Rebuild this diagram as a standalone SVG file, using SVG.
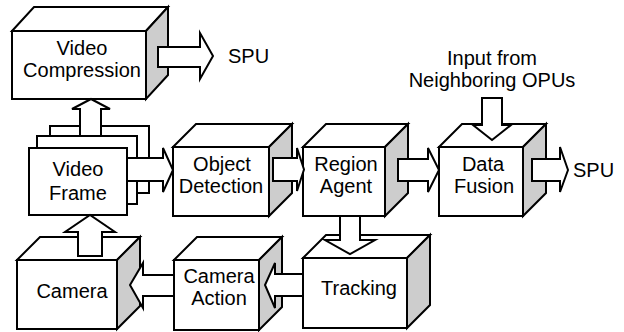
<svg xmlns="http://www.w3.org/2000/svg" width="624" height="332" viewBox="0 0 624 332">
  <style>
    .face { fill: #ffffff; stroke: #000000; stroke-width: 2; stroke-linejoin: miter; }
    .side { fill: #cdcdcd; stroke: #000000; stroke-width: 2; stroke-linejoin: miter; }
    .arrow { fill: #ffffff; stroke: #000000; stroke-width: 2; stroke-linejoin: miter; }
    text { font-family: "Liberation Sans", Arial, Helvetica, sans-serif; font-size: 20px; fill: #000000; }
    .c { text-anchor: middle; }
  </style>
  <rect x="0" y="0" width="624" height="332" fill="#ffffff"/>

  <!-- Video Compression block -->
  <g id="video-compression">
    <polygon class="face" points="12,31 34,7 168,7 146,31"/>
    <polygon class="side" points="146,31 168,7 168,75 146,99"/>
    <rect class="face" x="12" y="31" width="134" height="68"/>
    <text class="c" x="82" y="55">Video</text>
    <text class="c" x="82" y="77">Compression</text>
  </g>

  <!-- Video Frame: three stacked frames -->
  <g id="video-frame">
    <rect class="face" x="50" y="126" width="99" height="67"/>
    <rect class="face" x="37" y="136" width="100" height="68"/>
    <rect class="face" x="29" y="148" width="98" height="67"/>
    <text class="c" x="78" y="176">Video</text>
    <text class="c" x="78" y="200">Frame</text>
  </g>

  <g id="object-detection">
    <polygon class="face" points="173,147 196,124 292,124 269,147"/>
    <polygon class="side" points="269,147 292,124 292,193 269,216"/>
    <rect class="face" x="173" y="147" width="96" height="69"/>
    <text class="c" x="222" y="171">Object</text>
    <text class="c" x="221" y="193">Detection</text>
  </g>

  <g id="region-agent">
    <polygon class="face" points="303,147 326,124 408,124 385,147"/>
    <polygon class="side" points="385,147 408,124 408,193 385,216"/>
    <rect class="face" x="303" y="147" width="82" height="69"/>
    <text class="c" x="346" y="171">Region</text>
    <text class="c" x="346" y="193">Agent</text>
  </g>

  <g id="data-fusion">
    <polygon class="face" points="439,147 462,124 546,124 523,147"/>
    <polygon class="side" points="523,147 546,124 546,193 523,216"/>
    <rect class="face" x="439" y="147" width="84" height="69"/>
    <text class="c" x="483" y="171">Data</text>
    <text class="c" x="484" y="193">Fusion</text>
  </g>

  <g id="tracking">
    <polygon class="face" points="303,258 326,235 430,235 407,258"/>
    <polygon class="side" points="407,258 430,235 430,305 407,328"/>
    <rect class="face" x="303" y="258" width="104" height="70"/>
    <text class="c" x="359" y="295">Tracking</text>
  </g>

  <g id="camera-action">
    <polygon class="face" points="174,260 197,237 282,237 259,260"/>
    <polygon class="side" points="259,260 282,237 282,307 259,330"/>
    <rect class="face" x="174" y="260" width="85" height="70"/>
    <text class="c" x="219" y="283">Camera</text>
    <text class="c" x="219" y="305">Action</text>
  </g>

  <g id="camera">
    <polygon class="face" points="17,260 40,237 140,237 117,260"/>
    <polygon class="side" points="117,260 140,237 140,306 117,329"/>
    <rect class="face" x="17" y="260" width="100" height="69"/>
    <text class="c" x="72" y="298">Camera</text>
  </g>

  <!-- External labels -->
  <g id="spu-top">
    <text x="228" y="63">SPU</text>
  </g>
  <g id="spu-right">
    <text x="573" y="177">SPU</text>
  </g>
  <g id="neighbor-input">
    <text class="c" x="492" y="65">Input from</text>
    <text class="c" x="492" y="87">Neighboring OPUs</text>
  </g>

  <!-- Block-arrow connectors -->
  <g id="connectors">
    <polygon class="arrow" points="80,136 80,109 72,109 91,99 110,109 101,109 101,136"/>
    <polygon class="arrow" points="158,47 200,47 200,33 213,56 200,79 200,67 158,67"/>
    <polygon class="arrow" points="127,158 163,158 163,148 173,170 163,192 163,181 127,181"/>
    <polygon class="arrow" points="273,158 297,158 297,148 304,169.5 297,191 297,181 273,181"/>
    <polygon class="arrow" points="398,159 428,159 428,148 439,170 428,192 428,181 398,181"/>
    <polygon class="arrow" points="482,98 502,98 502,125 511,125 492,140 473,125 482,125"/>
    <polygon class="arrow" points="532,159 560,159 560,147 568,170 560,192 560,181 532,181"/>
    <polygon class="arrow" points="340,216 360,216 360,240 375,240 350,254 325,240 340,240"/>
    <polygon class="arrow" points="303,274 275,274 275,263 265,285 275,308 275,296 303,296"/>
    <polygon class="arrow" points="174,275 143,275 143,263 130,285 143,308 143,296 174,296"/>
    <polygon class="arrow" points="78,256 78,232 65,232 90,215 115,232 102,232 102,256"/>
  </g>
</svg>
